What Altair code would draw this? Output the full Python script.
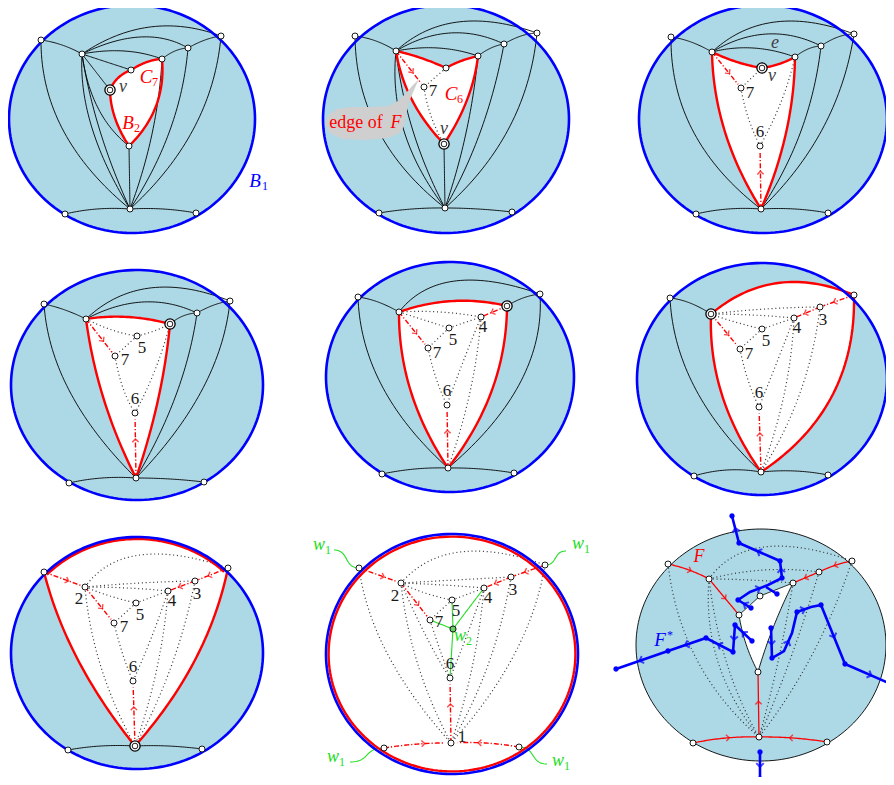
import math
import numpy as np
import pandas as pd
import altair as alt

# ---------------- colours ----------------
SEA = "#add8e6"
BLUE = "#0000ff"
RED = "#ff0000"
GREEN = "#22dd22"
GREY_TXT = "#404040"
INK = "#1a1a1a"
CALLOUT = "#cfcfcf"

# ---------------- outer discs (cx, cy, rx, ry) ----------------
DISCS = [
    (132, 119, 123, 114), (446, 119, 123, 114), (763, 119, 124, 114),
    (137, 385, 126, 115), (450, 377, 124, 115), (762, 379, 125, 116),
    (137, 653, 126, 116), (452, 654, 126, 120), (761, 645, 125, 116),
]
DISC_FILL = [SEA] * 7 + ["white", SEA]
DISC_EDGE = [BLUE] * 8 + ["black"]

# ---------------- panel graphs: vertices and edges (start, end, mid-point of curve) ----------------
P1 = dict(
    V=dict(a=(41, 40), b=(221, 36), c=(82, 54), d=(188, 48), e=(162, 59), f=(131, 70),
           v=(110, 90), g=(129, 146), h=(130, 209), i=(65, 214), j=(196, 213)),
    black=[("a", "c", (62, 45)), ("c", "b", (150, 27)), ("c", "d", (140, 37)), ("c", "e", (124, 51)),
           ("d", "b", (205, 40)), ("e", "d", (175, 51)), ("c", "f", None), ("c", "v", None),
           ("c", "g", (98, 108)), ("c", "h", (92, 128)), ("c", "h", (100, 131)), ("a", "h", (63, 130)),
           ("g", "h", None), ("e", "h", (152, 134)), ("d", "h", (170, 130)), ("b", "h", (194, 128)),
           ("i", "h", (97, 209)), ("h", "j", (163, 209))],
    red=[("v", "f", (118, 78)), ("f", "e", (147, 62)), ("e", "g", (156, 106)), ("g", "v", (115, 118))],
    double=["v"], face=True, disc=0,
)
P2 = dict(
    V=dict(a=(355, 36), b=(537, 33), c=(396, 51), d=(504, 44), e=(478, 56), f=(446, 68),
           p7=(424, 87), v=(444, 144), h=(445, 208), i=(379, 213), j=(512, 212)),
    black=[("a", "c", (376, 41)), ("c", "b", (458, 22)), ("c", "d", (450, 33)), ("c", "e", (438, 48)),
           ("d", "b", (521, 36)), ("e", "d", (491, 48)), ("a", "h", (378, 130)), ("c", "h", (404, 131)),
           ("c", "h", (413, 131)), ("v", "h", None), ("e", "h", (466, 133)), ("d", "h", (481, 130)),
           ("b", "h", (509, 128)), ("i", "h", (412, 209)), ("h", "j", (478, 209))],
    red=[("c", "f", (421, 58)), ("f", "e", (461, 61)), ("e", "v", (467, 100)), ("v", "c", (412, 100))],
    dotted=[("f", "p7", None), ("p7", "v", (431, 116))],
    arrows=[("c", "p7", None)],
    double=["v"], face=True, disc=1,
)
P3 = dict(
    V=dict(a=(671, 37), b=(854, 34), c=(712, 52), d=(821, 46), e=(795, 57), v=(762, 68),
           p7=(741, 88), p6=(760, 146), h=(761, 209), i=(696, 214), j=(828, 213)),
    black=[("a", "c", (691, 42)), ("c", "b", (775, 22)), ("c", "d", (767, 34)), ("c", "e", (753, 48)),
           ("d", "b", (838, 37)), ("e", "d", (808, 49)), ("a", "h", (693, 131)), ("d", "h", (801, 131)),
           ("b", "h", (823, 128)), ("i", "h", (728, 209)), ("h", "j", (795, 209))],
    red=[("c", "v", (737, 62)), ("v", "e", (779, 64)), ("e", "h", (786, 133)), ("h", "c", (725, 132))],
    dotted=[("v", "p7", None), ("p7", "p6", (748, 117)), ("e", "p6", (781, 102))],
    arrows=[("c", "p7", None), ("h", "p6", None)],
    double=["v"], face=True, disc=2,
)
P4 = dict(
    V=dict(a=(44, 304), b=(230, 301), c=(86, 319), d=(197, 313), v=(170, 324), p5=(137, 336),
           p7=(115, 356), p6=(135, 413), h=(136, 478), i=(69, 483), j=(204, 482)),
    black=[("a", "c", (65, 310)), ("c", "b", (150, 288)), ("c", "d", (143, 302)), ("v", "d", (183, 316)),
           ("d", "b", (214, 305)), ("a", "h", (70, 392)), ("d", "h", (176, 395)), ("b", "h", (202, 390)),
           ("i", "h", (102, 478)), ("h", "j", (170, 479))],
    red=[("c", "v", (128, 317)), ("v", "h", (158, 400)), ("h", "c", (104, 400))],
    dotted=[("c", "p5", (112, 330)), ("p5", "v", (154, 331)), ("p5", "p7", None), ("p7", "p6", (123, 388)),
            ("v", "p6", (155, 370))],
    arrows=[("c", "p7", None), ("h", "p6", None)],
    double=["v"], face=True, disc=3,
)
P5 = dict(
    V=dict(a=(358, 297), b=(540, 294), c=(399, 312), v=(507, 306), p4=(481, 317), p5=(449, 328),
           p7=(428, 348), p6=(447, 405), h=(448, 468), i=(382, 474), j=(514, 473)),
    black=[("a", "c", (378, 302)), ("c", "b", (455, 281)), ("v", "b", (523, 298)), ("a", "h", (382, 386)),
           ("b", "h", (520, 383)), ("i", "h", (415, 469)), ("h", "j", (481, 469))],
    red=[("c", "v", (453, 301)), ("v", "h", (492, 390)), ("h", "c", (411, 392))],
    dotted=[("c", "p4", (440, 312)), ("c", "p5", None), ("p5", "p4", None), ("p5", "p7", None),
            ("p7", "p6", (436, 378)), ("p4", "p6", (463, 362)), ("p4", "h", (470, 392))],
    arrows=[("c", "p7", None), ("v", "p4", None), ("h", "p6", None)],
    double=["v"], face=True, disc=4,
)
P6 = dict(
    V=dict(a=(670, 298), c=(711, 314), b=(854, 295), p3=(820, 307), p4=(794, 318), p5=(762, 329),
           p7=(740, 349), p6=(759, 407), h=(761, 472), i=(694, 476), j=(828, 475)),
    black=[("a", "c", (690, 303)), ("a", "h", (695, 388)), ("i", "h", (727, 470)), ("h", "j", (795, 471))],
    red=[("c", "b", (778, 283)), ("b", "h", (832, 396)), ("h", "c", (722, 395))],
    dotted=[("c", "p3", (765, 309)), ("c", "p4", (752, 315)), ("c", "p5", (735, 322)), ("p5", "p4", None),
            ("p5", "p7", None), ("p7", "p6", (748, 380)), ("p4", "p6", (777, 362)), ("p4", "h", (784, 395)),
            ("p3", "h", (800, 393))],
    arrows=[("c", "p7", None), ("b", "p3", None), ("p3", "p4", None), ("h", "p6", None)],
    double=["c"], face=True, disc=5,
)
P7 = dict(
    V=dict(a=(44, 572), b=(228, 568), p2=(85, 587), p3=(195, 581), p4=(168, 591), p5=(136, 603),
           p7=(114, 623), p6=(133, 681), h=(135, 746), i=(68, 750), j=(202, 749)),
    black=[("i", "h", (101, 746)), ("h", "j", (168, 746))],
    red=[("a", "b", "rim"), ("b", "h", (195, 660)), ("h", "a", (78, 660))],
    dotted=[("p2", "b", (140, 555)), ("p2", "p3", (140, 583)), ("p2", "p4", (127, 588)),
            ("p2", "p5", (110, 596)), ("p5", "p4", None), ("p5", "p7", None), ("p7", "p6", (123, 655)),
            ("p4", "p6", (152, 636)), ("p4", "h", (157, 668)), ("p3", "h", (171, 667)),
            ("p2", "h", (101, 667))],
    arrows=[("a", "p2", None), ("p2", "p7", None), ("b", "p3", None), ("p3", "p4", None), ("h", "p6", None)],
    double=["h"], face=True, disc=6,
)
P8 = dict(
    V=dict(a=(359, 568), b=(545, 565), p2=(401, 583), p3=(511, 577), p4=(484, 588), p5=(452, 600),
           p7=(430, 620), p6=(450, 678), p1=(451, 743), i=(384, 748), j=(519, 747), w2=(453, 629)),
    dotted=[("p2", "b", (460, 552)), ("p2", "p3", (456, 580)), ("p2", "p4", (443, 585)),
            ("p2", "p5", (425, 593)), ("p5", "p4", None), ("p5", "p7", None), ("p7", "p6", (440, 650)),
            ("p4", "p6", (467, 635)), ("p4", "p1", (472, 668)), ("p3", "p1", (488, 665)),
            ("p2", "p1", (418, 665)), ("p2", "p6", (428, 640)), ("a", "p1", (388, 655)),
            ("b", "p1", (514, 655))],
    green=[("w2", "p5", None), ("w2", "p4", None), ("w2", "p7", None), ("w2", "p6", None)],
    arrows=[("a", "p2", None), ("p2", "p7", None), ("b", "p3", None), ("p3", "p4", None),
            ("p1", "p6", None), ("i", "p1", (418, 744)), ("j", "p1", (485, 743))],
    double=[], face=False, disc=7, green_dot=["w2"],
)
P9 = dict(
    V=dict(a=(668, 564), q=(709, 579), r=(739, 615), s=(760, 596), t=(793, 583), u=(819, 572),
           b=(852, 561), m=(758, 672), h=(759, 737), i=(693, 743), j=(827, 742)),
    dotted=[("q", "b", (764, 547)), ("q", "u", (764, 570)), ("q", "t", (750, 580)), ("a", "h", (697, 660)),
            ("q", "h", (718, 662)), ("q", "h", (727, 664)), ("t", "h", (778, 662)), ("u", "h", (790, 660)),
            ("b", "h", (812, 655))],
    hole=[("r", "s", None), ("s", "t", None), ("t", "m", (773, 628)), ("m", "r", (746, 644))],
    thin_red=[("a", "q", (689, 570)), ("q", "r", None), ("b", "u", (836, 565)), ("u", "t", None),
              ("i", "h", (726, 738)), ("j", "h", (793, 738)), ("h", "m", None)],
    double=[], face=False, disc=8,
)
PANELS = [P1, P2, P3, P4, P5, P6, P7, P8, P9]

# dual graph F* (panel 9)
DUAL_PATHS = [
    [(732, 516), (739, 543), (780, 561), (782, 578), (768, 585), (750, 592), (738, 600)],
    [(738, 600), (751, 608)],
    [(766, 587), (777, 594)],
    [(616, 669), (668, 651), (706, 638), (733, 652), (735, 625)],
    [(735, 625), (752, 641)],
    [(771, 628), (772, 658), (784, 651), (792, 633), (797, 612), (811, 607), (821, 605), (845, 664), (893, 685)],
    [(760, 752), (760, 779)],
]
DUAL_DOTS = [(732, 516), (739, 543), (780, 561), (782, 578), (738, 600), (751, 608), (777, 594),
             (616, 669), (668, 651), (706, 638), (733, 652), (735, 625), (752, 641), (771, 628),
             (772, 658), (797, 612), (821, 605), (845, 664), (760, 752), (760, 779)]
DUAL_ARROWS = [((739, 543), (732, 516)), ((780, 561), (739, 543)), ((782, 578), (780, 561)),
               ((750, 592), (768, 585)), ((751, 608), (738, 600)), ((668, 651), (616, 669)),
               ((706, 638), (668, 651)), ((733, 652), (706, 638)), ((735, 625), (733, 652)),
               ((752, 641), (735, 625)), ((771, 628), (772, 658)), ((784, 651), (792, 633)),
               ((797, 612), (811, 607)), ((821, 605), (845, 664)), ((845, 664), (893, 685)),
               ((760, 752), (760, 779))]

# green w1 connectors of panel 8: (vertex, label anchor)
W1_LINKS = [("a", (334, 550)), ("b", (566, 551)), ("i", (350, 762)), ("j", (547, 764))]

# callout "edge of F"
BLOB = [(325, 124), (328, 115), (337, 109), (352, 107), (372, 107), (388, 106), (398, 101), (406, 93),
        (413, 85), (419, 79), (414, 90), (409, 102), (406, 114), (405, 124), (400, 133), (388, 138),
        (365, 140), (342, 139), (330, 133)]

# text: (text, x, y, colour, size)
ITALIC_TEXT = [
    ("v", 123, 87, GREY_TXT, 18), ("C", 146, 77, RED, 19), ("B", 128, 123, RED, 19), ("B", 255, 181, BLUE, 19),
    ("v", 444, 129, GREY_TXT, 18), ("C", 451, 94, RED, 19), ("F", 396, 123, RED, 18),
    ("v", 772, 76, GREY_TXT, 18), ("e", 775, 43, GREY_TXT, 18),
    ("w", 319, 545, GREEN, 18), ("w", 578, 544, GREEN, 18), ("w", 333, 757, GREEN, 18),
    ("w", 558, 761, GREEN, 18), ("w", 460, 636, GREEN, 18),
    ("F", 699, 557, RED, 18), ("F", 660, 640, BLUE, 19),
]
SUB_TEXT = [
    ("7", 152, 82, RED, 12), ("2", 134, 128, RED, 12), ("1", 262, 186, BLUE, 12), ("6", 457, 99, RED, 12),
    ("1", 325, 550, GREEN, 12), ("1", 584, 549, GREEN, 12), ("1", 339, 762, GREEN, 12),
    ("1", 564, 766, GREEN, 12), ("2", 466, 641, GREEN, 12), ("*", 667, 635, BLUE, 12),
]
UPRIGHT_TEXT = [
    ("edge of", 356, 123, RED, 18),
    ("7", 433, 91, INK, 17),
    ("7", 750, 93, INK, 17), ("6", 760, 132, INK, 17),
    ("5", 142, 348, INK, 17), ("7", 125, 360, INK, 17), ("6", 135, 399, INK, 17),
    ("4", 483, 327, INK, 17), ("5", 453, 340, INK, 17), ("7", 437, 353, INK, 17), ("6", 447, 391, INK, 17),
    ("3", 823, 320, INK, 17), ("4", 797, 328, INK, 17), ("5", 766, 341, INK, 17), ("7", 749, 354, INK, 17),
    ("6", 759, 393, INK, 17),
    ("2", 79, 599, INK, 17), ("3", 197, 594, INK, 17), ("4", 172, 601, INK, 17), ("5", 140, 615, INK, 17),
    ("7", 124, 627, INK, 17), ("6", 133, 667, INK, 17),
    ("2", 395, 596, INK, 17), ("3", 513, 590, INK, 17), ("4", 488, 598, INK, 17), ("5", 456, 611, INK, 17),
    ("7", 439, 622, INK, 17), ("6", 450, 664, INK, 17), ("1", 462, 737, INK, 17),
]


# ---------------- geometry helpers ----------------
def curve(p0, p1, via=None, n=40, t1=1.0):
    p0 = np.asarray(p0, float)
    p1 = np.asarray(p1, float)
    c = (p0 + p1) / 2 if via is None else 2 * np.asarray(via, float) - (p0 + p1) / 2
    t = np.linspace(0, t1, n)[:, None]
    return (1 - t) ** 2 * p0 + 2 * (1 - t) * t * c + t ** 2 * p1


def curve_dir(p0, p1, via, t):
    p0 = np.asarray(p0, float)
    p1 = np.asarray(p1, float)
    c = (p0 + p1) / 2 if via is None else 2 * np.asarray(via, float) - (p0 + p1) / 2
    pt = (1 - t) ** 2 * p0 + 2 * (1 - t) * t * c + t ** 2 * p1
    d = 2 * (1 - t) * (c - p0) + 2 * t * (p1 - c)
    return pt, math.degrees(math.atan2(d[1], d[0])) % 360


def rim_arc(disc, p0, p1, inset, n=60):
    cx, cy, rx, ry = disc
    a0 = math.atan2((p0[1] - cy) / ry, (p0[0] - cx) / rx)
    a1 = math.atan2((p1[1] - cy) / ry, (p1[0] - cx) / rx)
    a = np.linspace(a0, a1, n)
    return np.c_[cx + (rx - inset) * np.cos(a), cy + (ry - inset) * np.sin(a)]


def ellipse(disc, inset=0.0, n=180):
    cx, cy, rx, ry = disc
    a = np.linspace(0, 2 * math.pi, n)
    return np.c_[cx + (rx - inset) * np.cos(a), cy + (ry - inset) * np.sin(a)]


def line_feature(pts):
    return {"type": "Feature", "properties": {},
            "geometry": {"type": "LineString", "coordinates": np.round(np.asarray(pts, float), 2).tolist()}}


def poly_feature(pts):
    ring = np.round(np.asarray(pts, float), 2).tolist()
    ring.append(ring[0])
    return {"type": "Feature", "properties": {}, "geometry": {"type": "Polygon", "coordinates": [ring]}}


# ---------------- assemble features ----------------
disc_fill = {"white": [], SEA: []}
disc_edge = {BLUE: [], "black": []}
faces, holes, black, dotted, red, green, arrows, thin_red, dual = [], [], [], [], [], [], [], [], []
verts, doubles, green_dots, red_chev, blue_chev = [], [], [], [], []

for k, d in enumerate(DISCS):
    disc_fill[DISC_FILL[k]].append(poly_feature(ellipse(d)))
    disc_edge[DISC_EDGE[k]].append(line_feature(ellipse(d)))
red.append(line_feature(ellipse(DISCS[7], inset=2.6)))

for P in PANELS:
    V = P["V"]
    disc = DISCS[P["disc"]]
    for u, w, via in P.get("black", []):
        black.append(line_feature(curve(V[u], V[w], via)))
    for u, w, via in P.get("dotted", []):
        dotted.append(line_feature(curve(V[u], V[w], via)))
    for u, w, via in P.get("green", []):
        green.append(line_feature(curve(V[u], V[w], via)))
    ring = []
    for u, w, via in P.get("red", []):
        seg = rim_arc(disc, V[u], V[w], 2.0) if via == "rim" else curve(V[u], V[w], via)
        red.append(line_feature(seg))
        ring.extend(seg.tolist())
    if P.get("face"):
        faces.append(poly_feature(ring))
    if P.get("hole"):
        hring = []
        for u, w, via in P["hole"]:
            hring.extend(curve(V[u], V[w], via).tolist())
        holes.append(poly_feature(hring))
    for u, w, via in P.get("arrows", []):
        arrows.append(line_feature(curve(V[u], V[w], via, t1=0.9)))
        pt, ang = curve_dir(V[u], V[w], via, 0.6)
        red_chev.append(dict(x=pt[0], y=pt[1], ang=ang))
    for u, w, via in P.get("thin_red", []):
        thin_red.append(line_feature(curve(V[u], V[w], via)))
        pt, ang = curve_dir(V[u], V[w], via, 0.55)
        red_chev.append(dict(x=pt[0], y=pt[1], ang=ang))
    for name, (x, y) in V.items():
        if name in P.get("double", []):
            doubles.append(dict(x=x, y=y))
        elif name in P.get("green_dot", []):
            green_dots.append(dict(x=x, y=y))
        else:
            verts.append(dict(x=x, y=y))

for u, anchor in W1_LINKS:
    p0 = np.asarray(P8["V"][u], float)
    p3 = np.asarray(anchor, float)
    c1 = np.array([p0[0] + 0.6 * (p3[0] - p0[0]), p0[1]])
    c2 = np.array([p0[0] + 0.4 * (p3[0] - p0[0]), p3[1]])
    t = np.linspace(0, 1, 30)[:, None]
    pts = (1 - t) ** 3 * p0 + 3 * (1 - t) ** 2 * t * c1 + 3 * (1 - t) * t ** 2 * c2 + t ** 3 * p3
    green.append(line_feature(pts))

for path in DUAL_PATHS:
    dual.append(line_feature(path))
for s, e in DUAL_ARROWS:
    pt, ang = curve_dir(s, e, None, 0.55)
    blue_chev.append(dict(x=pt[0], y=pt[1], ang=ang))

# ---------------- layers ----------------
PROJ = dict(type="identity", scale=1, translate=[-8, -8])
CHEVRON = "M -1 -1 L 0 0 L -1 1"


def geo(features, **style):
    return alt.Chart(alt.Data(values=features)).mark_geoshape(**style).project(**PROJ)


def dots(rows, **style):
    return alt.Chart(pd.DataFrame(rows)).mark_point(**style).encode(
        longitude="x:Q", latitude="y:Q").project(**PROJ)


def chevrons(rows, **style):
    return alt.Chart(pd.DataFrame(rows)).mark_point(shape=CHEVRON, filled=False, **style).encode(
        longitude="x:Q", latitude="y:Q", angle=alt.Angle("ang:Q", scale=None)).project(**PROJ)


def texts(rows, **style):
    df = pd.DataFrame(rows, columns=["t", "x", "y", "c", "s"])
    return alt.Chart(df).mark_text(font="Liberation Serif", baseline="middle", **style).encode(
        longitude="x:Q", latitude="y:Q", text="t:N",
        color=alt.Color("c:N", scale=None), size=alt.Size("s:Q", scale=None)).project(**PROJ)


layers = [
    geo(disc_fill[SEA], fill=SEA, strokeWidth=0),
    geo(disc_fill["white"], fill="white", strokeWidth=0),
    geo(faces, fill="white", strokeWidth=0),
    geo(holes, fill="white", stroke="black", strokeWidth=0.9),
    geo(black, filled=False, stroke="black", strokeWidth=0.9),
    geo(dotted, filled=False, stroke="#333333", strokeWidth=1.2, strokeDash=[1, 2.8]),
    geo(green, filled=False, stroke=GREEN, strokeWidth=1.1),
    geo(thin_red, filled=False, stroke=RED, strokeWidth=1.3),
    geo(red, filled=False, stroke=RED, strokeWidth=2.4),
    geo(arrows, filled=False, stroke=RED, strokeWidth=1.4, strokeDash=[5, 2, 1.2, 2]),
    geo(disc_edge[BLUE], filled=False, stroke=BLUE, strokeWidth=2.6),
    geo(disc_edge["black"], filled=False, stroke="black", strokeWidth=0.9),
    geo(dual, filled=False, stroke=BLUE, strokeWidth=2.6),
    geo([poly_feature(BLOB)], fill=CALLOUT, strokeWidth=0),
    chevrons(red_chev, stroke=RED, strokeWidth=1.4, size=40),
    chevrons(blue_chev, stroke=BLUE, strokeWidth=2.0, size=56),
    dots([dict(x=x, y=y) for x, y in DUAL_DOTS], shape="circle", filled=True, fill=BLUE, stroke=BLUE,
         strokeWidth=0.5, size=24, opacity=1),
    dots(verts, shape="circle", filled=True, fill="white", stroke="black", strokeWidth=0.9, size=36, opacity=1),
    dots(green_dots, shape="circle", filled=True, fill="#66cc66", stroke="black", strokeWidth=0.9, size=38,
         opacity=1),
    dots(doubles, shape="circle", filled=True, fill="white", stroke="black", strokeWidth=1.3, size=105, opacity=1),
    dots(doubles, shape="circle", filled=True, fill="white", stroke="black", strokeWidth=0.9, size=32, opacity=1),
    texts(ITALIC_TEXT, fontStyle="italic", align="center"),
    texts(SUB_TEXT, align="left"),
    texts(UPRIGHT_TEXT, align="center"),
]

chart = alt.layer(*layers).properties(
    width=878, height=769, padding=0, autosize=alt.AutoSizeParams(type="none")
).configure_view(stroke=None)

chart.save("out.html", embed_options={"renderer": "svg", "actions": False})
